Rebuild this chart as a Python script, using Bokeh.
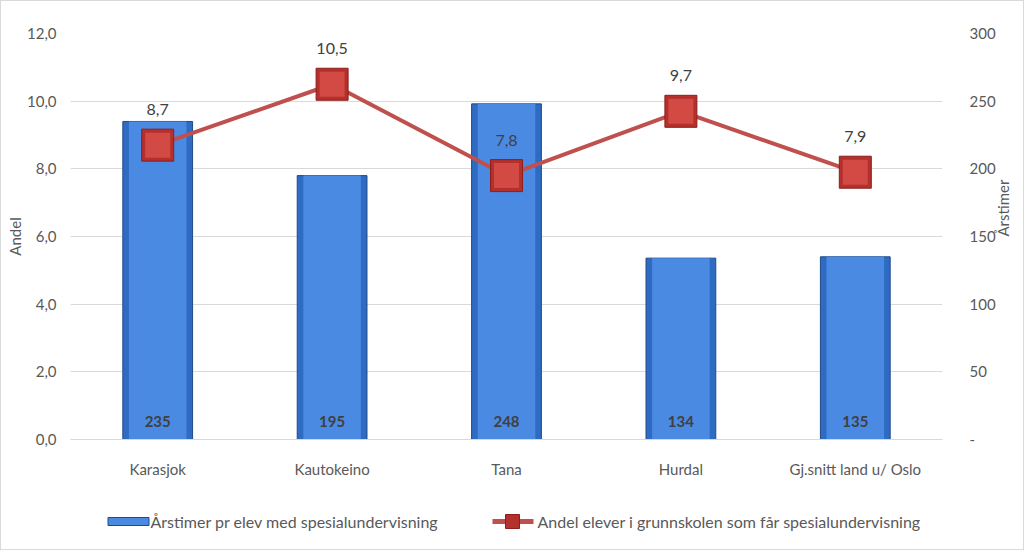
import math
from bokeh.plotting import figure
from bokeh.layouts import column
from bokeh.models import (Range1d, LinearAxis, FixedTicker, ColumnDataSource,
                          LabelSet, FactorRange)
from bokeh.core.properties import value
from bokeh.embed import file_html
from bokeh.resources import INLINE

categories = ["Karasjok", "Kautokeino", "Tana", "Hurdal", "Gj.snitt land u/ Oslo"]
arstimer = [235, 195, 248, 134, 135]
andel = [8.7, 10.5, 7.8, 9.7, 7.9]
left_ticks = [0, 2, 4, 6, 8, 10, 12]
right_ticks = [0, 50, 100, 150, 200, 250, 300]
series_names = ["Årstimer pr elev med spesialundervisning",
                "Andel elever i grunnskolen som får spesialundervisning"]

FONT = "Lato"
GREY = "#595959"
BAR_OUT, BAR_IN, BAR_EDGE = "#2f6bc2", "#4a8ae3", "#1f4a86"
LINE_C, MK_OUT, MK_IN, MK_EDGE = "#c0504d", "#b3302c", "#d24a43", "#8c1f1c"

src = ColumnDataSource(dict(
    cat=categories,
    bars=arstimer,
    andel=andel,
    bar_lbl=[str(v) for v in arstimer],
    andel_lbl=[f"{v:.1f}".replace(".", ",") for v in andel],
    zero=[0] * len(categories),
))

p = figure(width=1022, height=497, x_range=FactorRange(*categories, range_padding=0),
           y_range=Range1d(0, 12), output_backend="svg", toolbar_location=None,
           min_border_left=69, min_border_right=79, min_border_top=32, min_border_bottom=59)
p.extra_y_ranges = {"right": Range1d(0, 300)}
p.outline_line_color = None
p.background_fill_color = "white"

# axes
p.yaxis.ticker = FixedTicker(ticks=left_ticks)
p.yaxis.major_label_overrides = {t: f"{t:.1f}".replace(".", ",") for t in left_ticks}
p.yaxis.axis_label = "Andel"
p.yaxis.axis_line_color = None
p.yaxis.major_tick_line_color = None
p.yaxis.minor_tick_line_color = None
p.yaxis.major_label_standoff = 8
p.yaxis.axis_label_standoff = 0

ra = LinearAxis(y_range_name="right", ticker=FixedTicker(ticks=right_ticks),
                axis_label="Årstimer")
ra.major_label_overrides = {0: "-"}
ra.axis_line_color = None
ra.major_tick_line_color = None
ra.minor_tick_line_color = None
ra.major_label_standoff = 21
ra.axis_label_standoff = 4
ra.axis_label_orientation = math.pi / 2
p.add_layout(ra, "right")

p.xaxis.axis_line_color = "#d9d9d9"
p.xaxis.major_tick_line_color = None
p.xaxis.minor_tick_line_color = None
p.xaxis.major_label_standoff = 14

for ax in [p.yaxis[0], ra, p.xaxis[0]]:
    ax.major_label_text_font = FONT
    ax.major_label_text_font_size = "15px"
    ax.major_label_text_color = GREY
    ax.axis_label_text_font = FONT
    ax.axis_label_text_font_size = "15px"
    ax.axis_label_text_font_style = "normal"
    ax.axis_label_text_color = GREY

p.xgrid.grid_line_color = None
p.ygrid.grid_line_color = "#d9d9d9"
p.ygrid.ticker = FixedTicker(ticks=left_ticks)

# bars (right axis)
p.vbar(x="cat", top="bars", width=0.4, source=src, y_range_name="right",
       fill_color=BAR_OUT, line_color=BAR_EDGE, line_width=1)
p.vbar(x="cat", top="bars", width=0.33, source=src, y_range_name="right",
       fill_color=BAR_IN, line_color=None)

# line (left axis)
p.line(x="cat", y="andel", source=src, line_color=LINE_C, line_width=4)
p.scatter(x="cat", y="andel", source=src, marker="square", size=32,
          fill_color=MK_OUT, line_color=MK_EDGE, line_width=1)
p.scatter(x="cat", y="andel", source=src, marker="square", size=25,
          fill_color=MK_IN, line_color=None)

# labels
bl = LabelSet(x="cat", y="zero", text="bar_lbl", source=src, y_range_name="right",
              y_offset=13, text_align="center", text_baseline="bottom",
              text_font=value(FONT), text_font_size=value("15px"),
              text_font_style="bold", text_color="#404040")
p.add_layout(bl)
ll = LabelSet(x="cat", y="andel", text="andel_lbl", source=src,
              y_offset=30, text_align="center", text_baseline="bottom",
              text_font=value(FONT), text_font_size=value("16px"),
              text_color="#404040")
p.add_layout(ll)

# legend strip (separate figure below; its frame is aligned with the chart frame,
# so the x range is expressed in page pixels 70..942)
lg = figure(width=1022, height=51, x_range=Range1d(70, 942), y_range=Range1d(0, 51),
            output_backend="svg", toolbar_location=None,
            min_border_left=0, min_border_right=0, min_border_top=0, min_border_bottom=0)
lg.axis.visible = False
lg.grid.grid_line_color = None
lg.outline_line_color = None
ly = 28
lg.rect(x=[128], y=[ly], width=41, height=8, fill_color=BAR_IN, line_color=BAR_EDGE)
lg.line(x=[492, 533], y=[ly, ly], line_color=LINE_C, line_width=5)
lg.scatter(x=[512], y=[ly], marker="square", size=14, fill_color=MK_OUT,
           line_color=MK_EDGE)
lg.text(x=[150, 537], y=[ly, ly], text=series_names, text_baseline="middle",
        text_align="left", text_font=value(FONT), text_font_size=value("16px"),
        text_color=GREY)

layout = column(p, lg, spacing=0, styles={"border": "1px solid #d9d9d9"})

open("out.html", "w").write(file_html(layout, INLINE))
